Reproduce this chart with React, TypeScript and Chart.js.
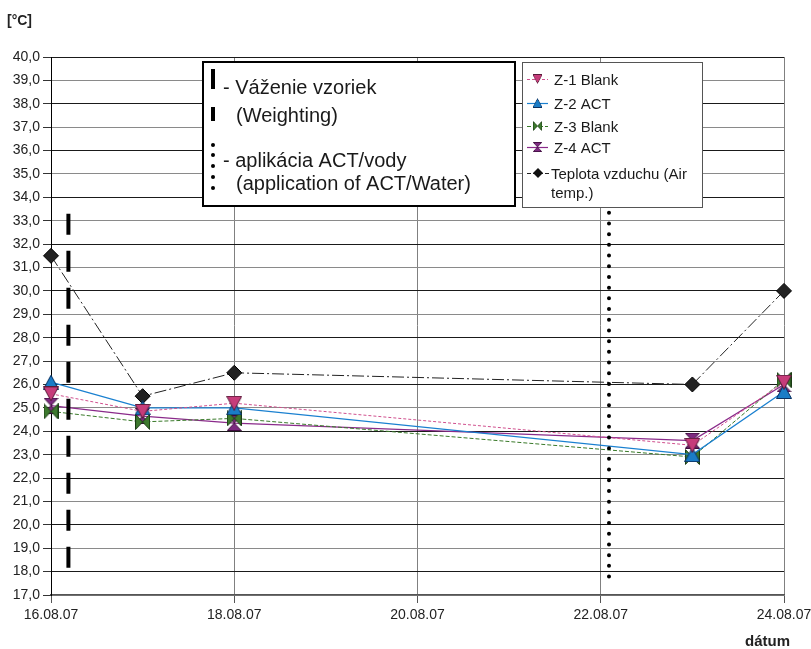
import React, { useEffect, useRef } from 'react';
import { Chart, registerables } from 'chart.js';
Chart.register(...registerables);

// days since 16.08.07
const dayOffsets = [0, 1, 2, 7, 8];
const xTickValues = [0, 2, 4, 6, 8];
const xTickLabels = ['16.08.07', '18.08.07', '20.08.07', '22.08.07', '24.08.07'];
const seriesNames = ['Z-1 Blank', 'Z-2 ACT', 'Z-3 Blank', 'Z-4 ACT', 'Teplota vzduchu (Air', 'temp.)'];
const z1Blank = [25.6, 24.85, 25.2, 23.4, 26.1];
const z2Act = [26.1, 25.0, 25.0, 23.0, 25.7];
const z3Blank = [24.85, 24.4, 24.55, 22.9, 26.2];
const z4Act = [25.1, 24.65, 24.35, 23.6, 26.0];
const airTemp = [31.5, 25.5, 26.5, 26.0, 30.0];
const weighingDay = [0.19, 0.19];
const weighingTemp = [33.3, 18.15];
const applicationDay = [6.09, 6.09];
const applicationTemp = [33.8, 17.7];
const noteLines = ['- Váženie vzoriek', '(Weighting)', '- aplikácia ACT/vody', '(application of ACT/Water)'];
const yTitle = '[°C]';
const xTitle = 'dátum';

const FONT = '"Liberation Sans", Arial, sans-serif';

type Shape = 'down' | 'up' | 'bowtie' | 'hourglass';

function makeMarker(shape: Shape, fill: string, stroke: string, w: number, h: number): HTMLCanvasElement {
  const c = document.createElement('canvas');
  c.width = w;
  c.height = h;
  const ctx = c.getContext('2d')!;
  ctx.fillStyle = fill;
  ctx.strokeStyle = stroke;
  ctx.lineWidth = 1;
  const p = 0.5;
  const tri = (pts: number[][]) => {
    ctx.beginPath();
    ctx.moveTo(pts[0][0], pts[0][1]);
    for (let i = 1; i < pts.length; i++) ctx.lineTo(pts[i][0], pts[i][1]);
    ctx.closePath();
    ctx.fill();
    ctx.stroke();
  };
  if (shape === 'down') tri([[p, p], [w - p, p], [w / 2, h - p]]);
  if (shape === 'up') tri([[p, h - p], [w - p, h - p], [w / 2, p]]);
  if (shape === 'bowtie') {
    tri([[p, p], [p, h - p], [w / 2, h / 2]]);
    tri([[w - p, p], [w - p, h - p], [w / 2, h / 2]]);
  }
  if (shape === 'hourglass') {
    tri([[p, p], [w - p, p], [w / 2, h / 2]]);
    tri([[p, h - p], [w - p, h - p], [w / 2, h / 2]]);
  }
  return c;
}

const pts = (xs: number[], ys: number[]) => xs.map((x, i) => ({ x, y: ys[i] }));

export default function App() {
  const ref = useRef<HTMLCanvasElement | null>(null);
  useEffect(() => {
    const canvas = ref.current!;
    const mPink = makeMarker('down', '#c63c7a', '#5a1a3a', 16, 15);
    const mBlue = makeMarker('up', '#1a7cc6', '#0a3060', 16, 15);
    const mGreen = makeMarker('bowtie', '#3d7a2e', '#1a3a14', 15, 16);
    const mPurple = makeMarker('hourglass', '#7d2a80', '#3a0a3a', 15, 16);
    const legendMarkers = [mPink, mBlue, mGreen, mPurple];

    const series = [
      { label: seriesNames[0], data: pts(dayOffsets, z1Blank), borderColor: '#d0508e', borderDash: [3, 2], borderWidth: 1, pointStyle: mPink },
      { label: seriesNames[1], data: pts(dayOffsets, z2Act), borderColor: '#1a80d0', borderDash: [], borderWidth: 1.3, pointStyle: mBlue },
      { label: seriesNames[2], data: pts(dayOffsets, z3Blank), borderColor: '#3a7a2a', borderDash: [4, 2], borderWidth: 1, pointStyle: mGreen },
      { label: seriesNames[3], data: pts(dayOffsets, z4Act), borderColor: '#8a2a8a', borderDash: [], borderWidth: 1.3, pointStyle: mPurple },
    ];

    const overlay = {
      id: 'overlay',
      afterDraw(chart: any) {
        const ctx = chart.ctx as CanvasRenderingContext2D;
        ctx.save();
        // axis titles
        ctx.fillStyle = '#222';
        ctx.font = `bold 14px ${FONT}`;
        ctx.textAlign = 'left';
        ctx.textBaseline = 'alphabetic';
        ctx.fillText(yTitle, 7, 25);
        ctx.font = `bold 15px ${FONT}`;
        ctx.fillText(xTitle, 745, 646);

        // annotation box
        ctx.fillStyle = '#fff';
        ctx.fillRect(203, 62, 312, 144);
        ctx.strokeStyle = '#000';
        ctx.lineWidth = 2;
        ctx.strokeRect(203, 62, 312, 144);
        ctx.fillStyle = '#000';
        ctx.fillRect(211, 69, 4, 20);
        ctx.fillRect(211, 107, 4, 14);
        [145, 155, 166, 177, 188].forEach((y) => {
          ctx.beginPath();
          ctx.arc(213, y, 2, 0, Math.PI * 2);
          ctx.fill();
        });
        ctx.fillStyle = '#1a1a1a';
        ctx.font = `20px ${FONT}`;
        ctx.fillText(noteLines[0], 223, 94);
        ctx.fillText(noteLines[1], 236, 122);
        ctx.fillText(noteLines[2], 223, 167);
        ctx.fillText(noteLines[3], 236, 190);

        // legend box
        ctx.fillStyle = '#fff';
        ctx.fillRect(522, 62, 180, 145);
        ctx.strokeStyle = '#555';
        ctx.lineWidth = 1;
        ctx.strokeRect(522.5, 62.5, 180, 145);
        const rows = [79, 103, 126, 147];
        series.forEach((s, i) => {
          const y = rows[i];
          ctx.strokeStyle = s.borderColor;
          ctx.lineWidth = 1.2;
          ctx.setLineDash(s.borderDash);
          ctx.beginPath();
          ctx.moveTo(527, y + 0.5);
          ctx.lineTo(548, y + 0.5);
          ctx.stroke();
          ctx.setLineDash([]);
          const m = legendMarkers[i];
          const mw = m.width * 0.62;
          const mh = m.height * 0.62;
          ctx.drawImage(m, 537.5 - mw / 2, y - mh / 2, mw, mh);
          ctx.fillStyle = '#1a1a1a';
          ctx.font = `15px ${FONT}`;
          ctx.fillText(s.label, 554, y + 6);
        });
        // air temp legend
        const ya = 173;
        ctx.strokeStyle = '#222';
        ctx.lineWidth = 1;
        ctx.setLineDash([4, 2, 1, 2]);
        ctx.beginPath();
        ctx.moveTo(527, ya + 0.5);
        ctx.lineTo(550, ya + 0.5);
        ctx.stroke();
        ctx.setLineDash([]);
        ctx.fillStyle = '#111';
        ctx.beginPath();
        ctx.moveTo(538, ya - 5);
        ctx.lineTo(543, ya);
        ctx.lineTo(538, ya + 5);
        ctx.lineTo(533, ya);
        ctx.closePath();
        ctx.fill();
        ctx.fillStyle = '#1a1a1a';
        ctx.font = `15px ${FONT}`;
        ctx.fillText(seriesNames[4], 551, ya + 6);
        ctx.fillText(seriesNames[5], 551, 198);
        ctx.restore();
      },
    };

    const chart = new Chart(canvas, {
      type: 'line',
      data: {
        datasets: [
          {
            label: 'weighing',
            data: pts(weighingDay, weighingTemp),
            borderColor: '#000',
            borderWidth: 4,
            borderDash: [21, 16],
            pointRadius: 0,
            clip: false,
          } as any,
          {
            label: 'application',
            data: pts(applicationDay, applicationTemp),
            borderColor: '#000',
            borderWidth: 4,
            borderDash: [0, 10.7],
            borderCapStyle: 'round',
            pointRadius: 0,
            clip: false,
          } as any,
          ...series.map((s) => ({
            label: s.label,
            data: s.data,
            borderColor: s.borderColor,
            borderDash: s.borderDash,
            borderWidth: s.borderWidth,
            pointStyle: s.pointStyle,
            tension: 0,
            clip: false,
          })),
          {
            label: 'air',
            data: pts(dayOffsets, airTemp),
            borderColor: '#222',
            borderWidth: 1,
            borderDash: [12, 3, 2, 3],
            pointStyle: 'rectRot',
            pointRadius: 7.5,
            pointBackgroundColor: '#222',
            pointBorderColor: '#000',
            pointBorderWidth: 1,
            clip: false,
          } as any,
        ],
      },
      options: {
        animation: false,
        responsive: false,
        events: [],
        layout: { padding: { top: 57, right: 27, left: 0, bottom: 0 } },
        plugins: { legend: { display: false }, tooltip: { enabled: false } },
        scales: {
          x: {
            type: 'linear',
            min: 0,
            max: 8,
            afterFit: (s: any) => {
              s.height = 54;
              s.paddingLeft = 0;
              s.paddingRight = 0;
            },
            afterBuildTicks: (s: any) => {
              s.ticks = xTickValues.map((v) => ({ value: v }));
            },
            ticks: {
              callback: (v: any) => xTickLabels[xTickValues.indexOf(Number(v))] ?? '',
              font: { family: FONT, size: 14 },
              color: '#222',
              padding: 4,
              maxRotation: 0,
              autoSkip: false,
            },
            grid: { color: '#808080', tickColor: '#555', tickLength: 8, lineWidth: 1 },
            border: { color: '#555', width: 1.5 },
          },
          y: {
            min: 17,
            max: 40,
            afterFit: (s: any) => {
              s.width = 51;
              s.paddingTop = 0;
              s.paddingBottom = 0;
            },
            ticks: {
              stepSize: 1,
              autoSkip: false,
              callback: (v: any) => Number(v).toFixed(1).replace('.', ','),
              font: { family: FONT, size: 14 },
              color: '#222',
              padding: 3,
            },
            grid: {
              color: (c: any) => (c.tick && Math.round(c.tick.value) % 2 === 0 ? '#1a1a1a' : '#8a8a8a'),
              tickColor: '#333',
              tickLength: 8,
              lineWidth: 1,
            },
            border: { color: '#000', width: 1 },
          },
        },
      } as any,
      plugins: [overlay],
    });
    return () => chart.destroy();
  }, []);

  return (
    <div style={{ position: 'fixed', left: 0, top: 0, width: 811, height: 649, background: '#fff' }}>
      <canvas ref={ref} width={811} height={649} style={{ width: 811, height: 649, display: 'block' }} />
    </div>
  );
}
